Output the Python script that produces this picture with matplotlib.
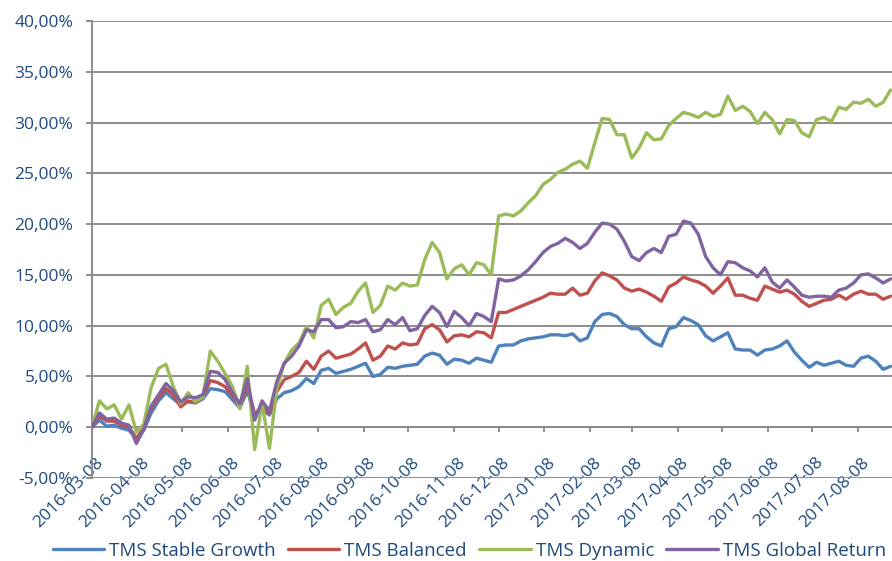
import matplotlib
matplotlib.use("Agg")
import matplotlib.pyplot as plt
import matplotlib.dates as mdates
from matplotlib.ticker import FuncFormatter, MultipleLocator
from matplotlib.transforms import ScaledTranslation
import pandas as pd

# ---- data (cumulative return, %) ----
start_date = "2016-03-08"
dates = pd.date_range(start_date, periods=109, freq="5D")

series_names = ["TMS Stable Growth", "TMS Balanced", "TMS Dynamic", "TMS Global Return"]

stable_growth = [0.0, 0.7, 0.1, 0.2, -0.1, -0.3, -1.1, -0.3, 1.4, 2.6,
                 3.4, 2.8, 2.2, 2.5, 2.4, 2.8, 3.8, 3.7, 3.5, 2.7,
                 1.9, 3.6, 1.2, 1.7, 1.2, 2.8, 3.4, 3.6, 4.0, 4.8,
                 4.3, 5.6, 5.8, 5.3, 5.5, 5.7, 6.0, 6.3, 5.0, 5.2,
                 5.9, 5.8, 6.0, 6.1, 6.2, 7.0, 7.3, 7.1, 6.2, 6.7,
                 6.6, 6.3, 6.8, 6.6, 6.4, 8.0, 8.1, 8.1, 8.5, 8.7,
                 8.8, 8.9, 9.1, 9.1, 9.0, 9.2, 8.5, 8.8, 10.4, 11.1,
                 11.2, 10.9, 10.1, 9.7, 9.7, 8.9, 8.3, 8.0, 9.7, 9.9,
                 10.8, 10.5, 10.1, 9.0, 8.5, 8.9, 9.3, 7.7, 7.6, 7.6,
                 7.1, 7.6, 7.7, 8.0, 8.5, 7.4, 6.6, 5.9, 6.4, 6.1,
                 6.3, 6.5, 6.1, 6.0, 6.8, 7.0, 6.5, 5.7, 6.0]

balanced = [0.0, 1.1, 0.6, 0.6, 0.2, 0.0, -1.1, -0.1, 1.9, 2.9,
            3.8, 3.2, 2.0, 2.6, 2.4, 3.0, 4.6, 4.4, 4.0, 3.1,
            2.1, 4.1, 1.3, 2.0, 1.4, 3.5, 4.7, 5.0, 5.4, 6.5,
            5.7, 7.0, 7.5, 6.8, 7.0, 7.2, 7.7, 8.3, 6.6, 7.0,
            8.0, 7.7, 8.3, 8.1, 8.2, 9.7, 10.1, 9.6, 8.4, 9.0,
            9.1, 8.9, 9.4, 9.3, 8.8, 11.3, 11.3, 11.6, 11.9, 12.2,
            12.5, 12.8, 13.2, 13.1, 13.1, 13.7, 13.0, 13.2, 14.4, 15.2,
            14.9, 14.5, 13.7, 13.4, 13.6, 13.3, 12.9, 12.4, 13.8, 14.2,
            14.8, 14.5, 14.3, 13.9, 13.2, 13.9, 14.7, 13.0, 13.0, 12.7,
            12.5, 13.9, 13.6, 13.3, 13.5, 13.1, 12.4, 11.9, 12.2, 12.5,
            12.6, 13.0, 12.6, 13.1, 13.4, 13.1, 13.1, 12.6, 12.9]

dynamic = [0.0, 2.6, 1.8, 2.2, 0.8, 2.2, -0.5, 0.3, 3.9, 5.8,
           6.2, 4.0, 2.3, 3.4, 2.5, 3.0, 7.5, 6.5, 5.3, 4.0,
           1.8, 6.0, -2.2, 2.4, -2.1, 3.8, 6.3, 7.6, 8.3, 9.9,
           8.8, 12.0, 12.6, 11.1, 11.8, 12.2, 13.4, 14.2, 11.3, 12.0,
           13.9, 13.5, 14.2, 13.9, 14.0, 16.5, 18.2, 17.2, 14.6, 15.6,
           16.0, 15.0, 16.2, 16.0, 15.0, 20.8, 21.0, 20.8, 21.3, 22.1,
           22.8, 23.9, 24.4, 25.1, 25.4, 25.9, 26.2, 25.5, 28.0, 30.4,
           30.3, 28.8, 28.8, 26.5, 27.5, 29.0, 28.3, 28.4, 29.7, 30.4,
           31.0, 30.8, 30.5, 31.0, 30.6, 30.8, 32.6, 31.2, 31.6, 31.1,
           29.9, 31.0, 30.3, 28.9, 30.3, 30.2, 29.0, 28.6, 30.3, 30.5,
           30.1, 31.5, 31.3, 32.0, 31.9, 32.3, 31.6, 32.0, 33.2]

global_return = [0.0, 1.4, 0.8, 0.9, 0.4, 0.2, -1.6, -0.2, 2.1, 3.2,
                 4.3, 3.6, 2.5, 3.0, 2.9, 3.2, 5.5, 5.4, 4.7, 3.4,
                 2.3, 4.8, 0.7, 2.6, 1.6, 4.5, 6.3, 7.0, 8.0, 9.6,
                 9.4, 10.6, 10.6, 9.8, 9.9, 10.4, 10.3, 10.6, 9.4, 9.6,
                 10.6, 10.1, 10.8, 9.5, 9.7, 11.0, 11.9, 11.3, 9.9, 11.4,
                 10.8, 10.0, 11.2, 10.9, 10.4, 14.6, 14.4, 14.5, 14.9, 15.5,
                 16.3, 17.2, 17.8, 18.1, 18.6, 18.2, 17.6, 18.1, 19.2, 20.1,
                 20.0, 19.5, 18.3, 16.8, 16.4, 17.2, 17.6, 17.2, 18.8, 19.0,
                 20.3, 20.1, 19.0, 16.8, 15.7, 15.0, 16.3, 16.2, 15.7, 15.4,
                 14.8, 15.7, 14.3, 13.7, 14.5, 13.8, 13.0, 12.8, 12.9, 12.9,
                 12.8, 13.5, 13.7, 14.2, 15.0, 15.1, 14.7, 14.2, 14.6]

series_values = [stable_growth, balanced, dynamic, global_return]
colors = ["#4F81BD", "#C0504D", "#9BBB59", "#8064A2"]

x_start = "2016-03-08"
x_end = "2017-08-31"

# ---- style ----
text_color = "#1F497D"
grid_color = "#8C8C8C"
plt.rcParams["font.family"] = ["Open Sans", "DejaVu Sans"]

W, H = 892, 561
fig = plt.figure(figsize=(W / 100, H / 100), dpi=100)
ax = fig.add_axes([92 / W, 1 - 478 / H, 1 - 92 / W, (478 - 21) / H])

handles = []
for name, vals, c in zip(series_names, series_values, colors):
    (ln,) = ax.plot(dates, vals, color=c, lw=2.4, solid_joinstyle="round",
                    solid_capstyle="round", label=name, zorder=3)
    handles.append(ln)

ax.set_ylim(-5, 40)
ax.set_xlim(pd.Timestamp(x_start), pd.Timestamp(x_end))
ax.yaxis.set_major_locator(MultipleLocator(5))
ax.yaxis.set_major_formatter(FuncFormatter(lambda v, p: f"{v:.2f}%".replace(".", ",")))
ax.grid(axis="y", color=grid_color, lw=1.4, zorder=1)
ax.set_axisbelow(True)

for s in ["top", "right"]:
    ax.spines[s].set_visible(False)
ax.spines["left"].set_color(grid_color)
ax.spines["left"].set_linewidth(1.4)
ax.spines["bottom"].set_position(("data", 0))
ax.spines["bottom"].set_color(grid_color)
ax.spines["bottom"].set_linewidth(1.4)

ax.tick_params(axis="y", direction="out", length=4.5, width=1.4, color=grid_color,
               labelcolor=text_color, labelsize=12.5, pad=9)
ax.tick_params(axis="x", direction="out", length=3.6, width=1.4, color=grid_color,
               labelcolor=text_color, labelsize=12.5, pad=16)

ax.xaxis.set_major_locator(mdates.MonthLocator(bymonthday=8))
ax.xaxis.set_major_formatter(mdates.DateFormatter("%Y-%m-%d"))
offset = ScaledTranslation(0.03, 0, fig.dpi_scale_trans)
for lab in ax.get_xticklabels():
    lab.set_rotation(45)
    lab.set_ha("right")
    lab.set_va("top")
    lab.set_rotation_mode("anchor")
    lab.set_transform(lab.get_transform() + offset)

fig.legend(handles, series_names, loc="center", bbox_to_anchor=(0.526, 1 - 551 / H),
           ncol=4, frameon=False, handlelength=2.75, handletextpad=0.27,
           columnspacing=0.64, fontsize=13.5, labelcolor=text_color)

fig.savefig("out.png", dpi=100)
